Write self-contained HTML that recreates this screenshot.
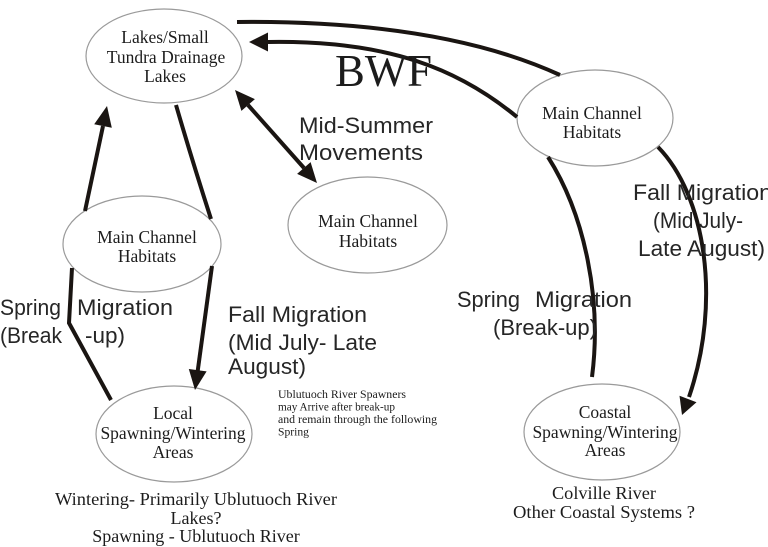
<!DOCTYPE html>
<html>
<head>
<meta charset="utf-8">
<style>
  html,body{margin:0;padding:0;background:#fff;}
  svg{display:block;}
  .serif{font-family:"Liberation Serif","Times New Roman",serif;fill:#1c1c1c;}
  .sans{font-family:"Liberation Sans",Arial,sans-serif;fill:#262626;}
</style>
</head>
<body>
<svg width="768" height="547" viewBox="0 0 768 547" xmlns="http://www.w3.org/2000/svg">
  <rect width="768" height="547" fill="#fff"/>

  <!-- Ellipses -->
  <g fill="#fff" stroke="#9a9a9a" stroke-width="1.2">
    <ellipse cx="164" cy="56" rx="78" ry="47"/>
    <ellipse cx="142" cy="244" rx="79" ry="48"/>
    <ellipse cx="367.5" cy="225" rx="79.5" ry="48"/>
    <ellipse cx="595" cy="118" rx="78" ry="48"/>
    <ellipse cx="174" cy="434" rx="78" ry="48"/>
    <ellipse cx="602" cy="432" rx="78" ry="48"/>
  </g>

  <!-- Connectors -->
  <g fill="none" stroke="#1a1512" stroke-width="4" stroke-linecap="butt" stroke-linejoin="miter">
    <path d="M237,22 Q440,20 560,75"/>
    <path d="M268,42 C390,40 460,70 517,117"/>
    <path d="M658,147 C705,195 722,300 689,397"/>
    <path d="M548,157 C585,215 602,300 592,377"/>
    <path d="M176,105 Q192,160 211,219"/>
    <path d="M212,266 L197.7,371"/>
    <path d="M111,400 L69,323 L72,268"/>
    <path d="M85,211 L103,126"/>
    <path d="M248,105 L304,168"/>
  </g>

  <!-- Arrowheads -->
  <g fill="#1a1512">
    <polygon points="249,42 268,32.5 268,51.5"/>
    <polygon points="107,106 111.8,127.8 94.2,124.2"/>
    <polygon points="195,390 206.6,371.4 188.8,369"/>
    <polygon points="317,183 310.6,162.1 297.1,173.9"/>
    <polygon points="235,90 254.9,99.1 241.4,110.9"/>
    <polygon points="682,415 696.5,402.2 679.5,395.8"/>
  </g>

  <!-- Ellipse labels -->
  <g class="serif" font-size="17.5" text-anchor="middle">
    <text x="165" y="43">Lakes/Small</text>
    <text x="166" y="63">Tundra Drainage</text>
    <text x="165" y="82">Lakes</text>

    <text x="147" y="243">Main Channel</text>
    <text x="147" y="262">Habitats</text>

    <text x="368" y="227">Main Channel</text>
    <text x="368" y="247">Habitats</text>

    <text x="592" y="119">Main Channel</text>
    <text x="592" y="138">Habitats</text>

    <text x="173" y="419">Local</text>
    <text x="173" y="439">Spawning/Wintering</text>
    <text x="173" y="458">Areas</text>

    <text x="605" y="418">Coastal</text>
    <text x="605" y="438">Spawning/Wintering</text>
    <text x="605" y="456">Areas</text>
  </g>

  <!-- BWF -->
  <text class="serif" x="335" y="86" font-size="45" fill="#111" textLength="97" lengthAdjust="spacingAndGlyphs">BWF</text>

  <!-- Sans labels -->
  <g class="sans" font-size="22">
    <text x="299" y="133" textLength="134" lengthAdjust="spacingAndGlyphs">Mid-Summer</text>
    <text x="299" y="160" textLength="124" lengthAdjust="spacingAndGlyphs">Movements</text>

    <text x="633" y="200" textLength="139" lengthAdjust="spacingAndGlyphs">Fall Migration</text>
    <text x="653" y="228" textLength="90" lengthAdjust="spacingAndGlyphs">(Mid July-</text>
    <text x="638" y="256" textLength="127" lengthAdjust="spacingAndGlyphs">Late August)</text>

    <text x="457" y="307" textLength="63" lengthAdjust="spacingAndGlyphs">Spring</text>
    <text x="535" y="307" textLength="97" lengthAdjust="spacingAndGlyphs">Migration</text>
    <text x="493" y="335" textLength="104" lengthAdjust="spacingAndGlyphs">(Break-up)</text>

    <text x="0" y="315" textLength="61" lengthAdjust="spacingAndGlyphs">Spring</text>
    <text x="77" y="315" textLength="96" lengthAdjust="spacingAndGlyphs">Migration</text>
    <text x="0" y="343" textLength="62" lengthAdjust="spacingAndGlyphs">(Break</text>
    <text x="85" y="343" textLength="40" lengthAdjust="spacingAndGlyphs">-up)</text>

    <text x="228" y="322" textLength="139" lengthAdjust="spacingAndGlyphs">Fall Migration</text>
    <text x="228" y="350" textLength="149" lengthAdjust="spacingAndGlyphs">(Mid July- Late</text>
    <text x="228" y="374" textLength="78" lengthAdjust="spacingAndGlyphs">August)</text>
  </g>

  <!-- Small note -->
  <g class="serif" font-size="11.5" fill="#333">
    <text x="278" y="398" textLength="128" lengthAdjust="spacingAndGlyphs">Ublutuoch River Spawners</text>
    <text x="278" y="410.5" textLength="117" lengthAdjust="spacingAndGlyphs">may Arrive after break-up</text>
    <text x="278" y="423" textLength="159" lengthAdjust="spacingAndGlyphs">and remain through the following</text>
    <text x="278" y="435.5" textLength="31" lengthAdjust="spacingAndGlyphs">Spring</text>
  </g>

  <!-- Bottom captions -->
  <g class="serif" font-size="18" text-anchor="middle">
    <text x="196" y="505" textLength="282" lengthAdjust="spacingAndGlyphs">Wintering- Primarily Ublutuoch River</text>
    <text x="196" y="524">Lakes?</text>
    <text x="196" y="542">Spawning - Ublutuoch River</text>

    <text x="604" y="499" textLength="104" lengthAdjust="spacingAndGlyphs">Colville River</text>
    <text x="604" y="518" textLength="182" lengthAdjust="spacingAndGlyphs">Other Coastal Systems ?</text>
  </g>
</svg>
</body>
</html>
